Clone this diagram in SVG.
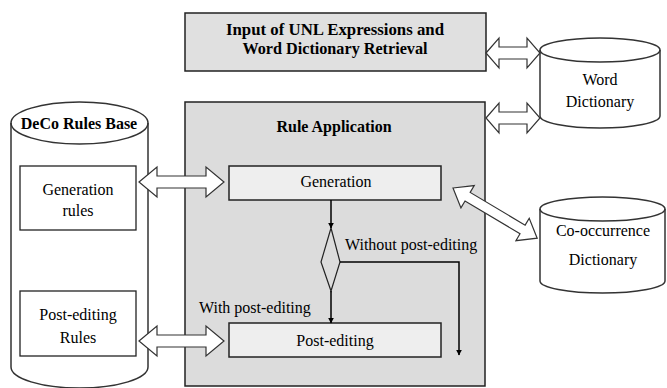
<svg xmlns="http://www.w3.org/2000/svg" width="667" height="388" viewBox="0 0 667 388">
<defs>
<marker id="ah" viewBox="0 0 10 10" refX="9" refY="5" markerWidth="6" markerHeight="8" orient="auto" markerUnits="userSpaceOnUse">
<path d="M0,0 L10,5 L0,10 Z" fill="#000"/>
</marker>
</defs>
<rect width="667" height="388" fill="#fff"/>

<g id="input">
<rect stroke="#222" stroke-width="1.5" x="185" y="13" width="301" height="58" fill="#e0e0e0"/>
<text font-family="Liberation Serif" font-size="16" font-weight="bold" x="335" y="35" text-anchor="middle" textLength="218" lengthAdjust="spacingAndGlyphs">Input of UNL Expressions and</text>
<text font-family="Liberation Serif" font-size="16" font-weight="bold" x="335" y="54" text-anchor="middle" textLength="185" lengthAdjust="spacingAndGlyphs">Word Dictionary Retrieval</text>
</g>

<g id="rule-application">
<rect stroke="#222" stroke-width="1.5" x="185" y="102" width="300" height="284" fill="#dcdcdc"/>
<text font-family="Liberation Serif" font-size="16" font-weight="bold" x="334" y="132" text-anchor="middle">Rule Application</text>
</g>

<g id="generation">
<rect stroke="#222" stroke-width="1.5" x="229" y="166" width="212" height="34" fill="#eeeeee"/>
<text font-family="Liberation Serif" font-size="16" x="336" y="187" text-anchor="middle">Generation</text>
</g>

<g id="decision">
<polygon points="331,228 340,262 331,291 321,262" fill="none" stroke="#222" stroke-width="1.2"/>
</g>

<g id="post-editing">
<rect stroke="#222" stroke-width="1.5" x="229" y="323" width="212" height="34" fill="#eeeeee"/>
<text font-family="Liberation Serif" font-size="16" x="335" y="346" text-anchor="middle">Post-editing</text>
</g>

<g id="deco-rules-base">
<path fill="#fff" stroke="#333" stroke-width="1.5" d="M11,123 L11,367 A68.5,21 0 0 0 148,367 L148,123 A68.5,21 0 0 0 11,123 Z"/>
<path fill="none" stroke="#333" stroke-width="1.5" d="M11,123 A68.5,21 0 0 0 148,123"/>
<text font-family="Liberation Serif" font-size="16" font-weight="bold" x="79" y="129" text-anchor="middle">DeCo Rules Base</text>
</g>

<g id="generation-rules">
<rect x="20" y="166" width="116" height="64" fill="#fff" stroke="#222" stroke-width="1.3"/>
<text font-family="Liberation Serif" font-size="16" x="78" y="195" text-anchor="middle">Generation</text>
<text font-family="Liberation Serif" font-size="16" x="78" y="216" text-anchor="middle">rules</text>
</g>

<g id="post-editing-rules">
<rect x="20" y="291" width="116" height="65" fill="#fff" stroke="#222" stroke-width="1.3"/>
<text font-family="Liberation Serif" font-size="16" x="78" y="320" text-anchor="middle">Post-editing</text>
<text font-family="Liberation Serif" font-size="16" x="78" y="343" text-anchor="middle">Rules</text>
</g>

<g id="word-dictionary">
<path fill="#fff" stroke="#333" stroke-width="1.5" d="M540,50 L540,116 A60,12 0 0 0 660,116 L660,50 A60,12 0 0 0 540,50 Z"/>
<path fill="none" stroke="#333" stroke-width="1.5" d="M540,50 A60,12 0 0 0 660,50"/>
<text font-family="Liberation Serif" font-size="16" x="600" y="85" text-anchor="middle">Word</text>
<text font-family="Liberation Serif" font-size="16" x="600" y="107" text-anchor="middle">Dictionary</text>
</g>

<g id="co-occurrence-dictionary">
<path fill="#fff" stroke="#333" stroke-width="1.5" d="M540,209 L540,281 A62.5,12 0 0 0 665,281 L665,209 A62.5,12 0 0 0 540,209 Z"/>
<path fill="none" stroke="#333" stroke-width="1.5" d="M540,209 A62.5,12 0 0 0 665,209"/>
<text font-family="Liberation Serif" font-size="16" x="603" y="236" text-anchor="middle">Co-occurrence</text>
<text font-family="Liberation Serif" font-size="16" x="603" y="265" text-anchor="middle">Dictionary</text>
</g>

<g id="connectors">
<g fill="#fff" stroke="#333" stroke-width="1.2">
<polygon points="139,182 157,167 157,176 206,176 206,167 224,182 206,197 206,188 157,188 157,197"/>
<polygon points="139,341 157,326 157,335 206,335 206,326 224,341 206,356 206,347 157,347 157,356"/>
<polygon points="486,53 499,38 499,47 527,47 527,38 540,53 527,68 527,59 499,59 499,68"/>
<polygon points="486,118 499,103 499,112 527,112 527,103 540,118 527,133 527,124 499,124 499,133"/>
<polygon transform="translate(453,188) rotate(30.8)" points="0,0 17,-13 17,-5 81,-5 81,-13 98,0 81,13 81,5 17,5 17,13"/>
</g>
<g fill="none" stroke="#000" stroke-width="1.5">
<line x1="331" y1="200" x2="331" y2="228" marker-end="url(#ah)"/>
<line x1="331" y1="291" x2="331" y2="323" marker-end="url(#ah)"/>
<polyline points="340,262 459,262 459,355" marker-end="url(#ah)"/>
</g>
<text font-family="Liberation Serif" font-size="16" x="345" y="250">Without post-editing</text>
<text font-family="Liberation Serif" font-size="16" x="199" y="313">With post-editing</text>
</g>
</svg>
